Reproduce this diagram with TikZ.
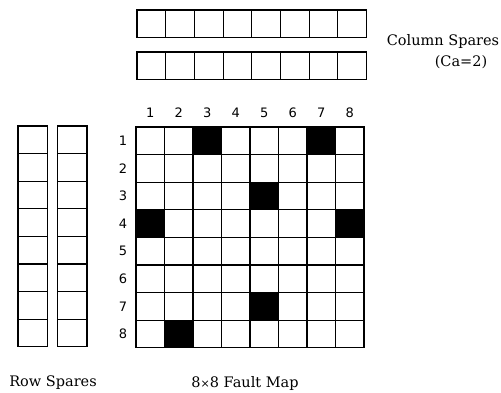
\documentclass[tikz,border=0pt]{standalone}
\usepackage{fontspec}
\setmainfont{DejaVu Serif}
\newfontfamily\digitfont{DejaVu Sans}
\begin{document}
\begin{tikzpicture}[x=1pt,y=-1pt,
  cell/.style={draw,line width=1.1pt,fill=white,minimum width=28.5pt,minimum height=27.6pt,inner sep=0pt,outer sep=0pt,anchor=north west},
  fault/.style={cell,fill=black},
  scell/.style={draw,line width=1.1pt,fill=white,minimum width=28.7pt,minimum height=27.5pt,inner sep=0pt,outer sep=0pt,anchor=north west},
  rcell/.style={draw,line width=1.1pt,fill=white,minimum width=29.5pt,minimum height=27.6pt,inner sep=0pt,outer sep=0pt,anchor=north west},
  num/.style={font=\digitfont\fontsize{13}{15}\selectfont,inner sep=0pt},
  lbl/.style={font=\fontsize{14.5}{17}\selectfont,inner sep=0pt}]
\useasboundingbox[fill=white] (0,0) rectangle (501,393);
% column spares
\foreach \j in {1,...,8} {
  \node[scell] (cs1-\j) at ({137+(\j-1)*28.7},10) {};
  \node[scell] (cs2-\j) at ({137+(\j-1)*28.7},52) {};
}
% row spares
\foreach \i in {1,...,8} {
  \node[rcell] (rs1-\i) at (18,{126+(\i-1)*27.6}) {};
  \node[rcell] (rs2-\i) at (57.5,{126+(\i-1)*27.6}) {};
}
% main grid
\foreach \i in {1,...,8} {
  \foreach \j in {1,...,8} {
    \node[cell] (m-\i-\j) at ({136+(\j-1)*28.5},{127+(\i-1)*27.6}) {};
  }
}
\foreach \i/\j in {1/3,1/7,3/5,4/1,4/8,7/5,8/2} {
  \node[fault] (f-\i-\j) at ({136+(\j-1)*28.5},{127+(\i-1)*27.6}) {};
}
% column numbers
\foreach \j in {1,...,8} {
  \node[num] (cn-\j) at ({136+(\j-0.5)*28.5},113) {\j};
}
% row numbers
\foreach \i in {1,...,8} {
  \node[num] (rn-\i) at (123,{127+(\i-0.5)*27.6}) {\i};
}
% labels
\node[lbl] (colsp) at (443,42) {Column Spares};
\node[lbl] (ca) at (461,62) {(Ca=2)};
\node[lbl] (rowsp) at (53,383) {Row Spares};
\node[lbl] (fmap) at (245,383) {8{\fontsize{11}{13}\selectfont×}8 Fault Map};
\end{tikzpicture}
\end{document}
